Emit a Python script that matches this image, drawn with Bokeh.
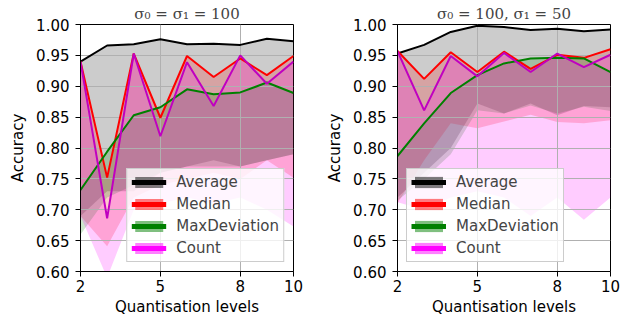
from bokeh.plotting import figure
from bokeh.layouts import row
from bokeh.models import (ColumnDataSource, FixedTicker, PrintfTickFormatter,
                          Legend, LegendItem, Range1d)
from bokeh.embed import file_html
from bokeh.resources import INLINE

# ---------------- data ----------------
levels = [2, 3, 4, 5, 6, 7, 8, 9, 10]
x_ticks = [2, 5, 8, 10]
y_ticks = [0.60, 0.65, 0.70, 0.75, 0.80, 0.85, 0.90, 0.95, 1.00]
titles = ["σ₀ = σ₁ = 100", "σ₀ = 100, σ₁ = 50"]
series_names = ["Average", "Median", "MaxDeviation", "Count"]

# left panel (sigma0 = sigma1 = 100): line values (band tops) and band bottoms
avg_left = [0.940, 0.966, 0.968, 0.976, 0.968, 0.969, 0.967, 0.977, 0.973]
med_left = [0.940, 0.752, 0.953, 0.849, 0.949, 0.915, 0.945, 0.918, 0.949]
maxdev_left = [0.732, 0.794, 0.853, 0.866, 0.895, 0.887, 0.890, 0.906, 0.889]
count_left = [0.940, 0.686, 0.953, 0.819, 0.939, 0.868, 0.950, 0.904, 0.940]
avg_left_lo = [0.690, 0.730, 0.730, 0.760, 0.770, 0.780, 0.770, 0.780, 0.790]
med_left_lo = [0.690, 0.641, 0.720, 0.740, 0.750, 0.760, 0.750, 0.780, 0.752]
maxdev_left_lo = [0.660, 0.720, 0.740, 0.760, 0.770, 0.770, 0.770, 0.780, 0.790]
count_left_lo = [0.690, 0.590, 0.700, 0.710, 0.720, 0.710, 0.720, 0.700, 0.673]

# right panel (sigma0 = 100, sigma1 = 50)
avg_right = [0.953, 0.967, 0.988, 0.998, 0.996, 0.991, 0.993, 0.989, 0.992]
med_right = [0.957, 0.912, 0.955, 0.923, 0.956, 0.928, 0.951, 0.946, 0.960]
maxdev_right = [0.787, 0.840, 0.889, 0.918, 0.937, 0.945, 0.946, 0.945, 0.923]
count_right = [0.957, 0.861, 0.949, 0.916, 0.954, 0.923, 0.953, 0.931, 0.951]
avg_right_lo = [0.720, 0.760, 0.800, 0.872, 0.856, 0.872, 0.853, 0.868, 0.866]
med_right_lo = [0.710, 0.780, 0.840, 0.832, 0.843, 0.854, 0.842, 0.840, 0.845]
maxdev_right_lo = [0.715, 0.750, 0.790, 0.861, 0.856, 0.869, 0.856, 0.867, 0.860]
count_right_lo = [0.712, 0.700, 0.720, 0.730, 0.720, 0.690, 0.720, 0.684, 0.720]

# ---------------- styles ----------------
line_colors = ["#000000", "#ff0000", "#008000", "#c000c0"]
fill_colors = ["#000000", "#ff0000", "#008000", "#ff00ff"]
legend_line_colors = ["#000000", "#ff0000", "#008000", "#ff00ff"]
FONT = "DejaVu Sans"
FS = "15px"
NAN = float("nan")


def make_panel(title, tops, bottoms, legend_loc, border_left, border_right, width):
    p = figure(width=width, height=318, output_backend="svg", toolbar_location=None,
               x_range=Range1d(2, 10), y_range=Range1d(0.6, 1.0),
               min_border_left=border_left, min_border_right=border_right,
               min_border_top=24, min_border_bottom=46)
    p.title.text = title
    p.title.text_font = "DejaVu Serif"
    p.title.text_font_size = FS
    p.title.text_font_style = "normal"
    p.title.align = "center"
    p.title.standoff = 4
    p.title.offset = 0

    for top, bot, fc in zip(tops, bottoms, fill_colors):
        src = ColumnDataSource(dict(x=levels, y1=bot, y2=top))
        r = p.varea(x="x", y1="y1", y2="y2", source=src, fill_color=fc, fill_alpha=0.2)
        r.level = "image"
    for top, lc in zip(tops, line_colors):
        src = ColumnDataSource(dict(x=levels, y=top))
        p.line(x="x", y="y", source=src, line_color=lc, line_width=2)

    # legend proxies (not visible in the plot area)
    items = []
    for name, fc, lc in zip(series_names, fill_colors, legend_line_colors):
        ea = ColumnDataSource(dict(x=[NAN, NAN], y1=[NAN, NAN], y2=[NAN, NAN]))
        ra = p.varea(x="x", y1="y1", y2="y2", source=ea, fill_color=fc, fill_alpha=0.5)
        el = ColumnDataSource(dict(x=[NAN, NAN], y=[NAN, NAN]))
        rl = p.line(x="x", y="y", source=el, line_color=lc, line_width=5)
        items.append(LegendItem(label=name, renderers=[ra, rl], index=0))
    leg = Legend(items=items, location=legend_loc)
    leg.label_text_font = FONT
    leg.label_text_font_size = FS
    leg.label_height = 15
    leg.glyph_height = 14
    leg.glyph_width = 35
    leg.spacing = 4
    leg.padding = 4
    leg.margin = 9
    leg.label_standoff = 10
    leg.border_line_color = "#cccccc"
    leg.border_line_alpha = 1.0
    leg.background_fill_color = "white"
    leg.background_fill_alpha = 0.8
    p.add_layout(leg, "center")

    p.xaxis.ticker = FixedTicker(ticks=x_ticks)
    p.yaxis.ticker = FixedTicker(ticks=y_ticks)
    p.yaxis.formatter = PrintfTickFormatter(format="%.2f")
    p.xaxis.axis_label = "Quantisation levels"
    p.yaxis.axis_label = "Accuracy"
    for ax in (p.xaxis[0], p.yaxis[0]):
        ax.axis_label_text_font = FONT
        ax.axis_label_text_font_size = FS
        ax.axis_label_text_font_style = "normal"
        ax.axis_label_text_color = "black"
        ax.major_label_text_font = FONT
        ax.major_label_text_font_size = FS
        ax.major_label_text_color = "black"
        ax.major_tick_out = 5
        ax.major_tick_in = 0
        ax.minor_tick_line_color = None
        ax.axis_line_color = "black"
        ax.major_tick_line_color = "black"
    p.yaxis.major_label_standoff = 6
    p.yaxis.axis_label_standoff = 6
    p.xaxis.major_label_standoff = 3
    p.xaxis.axis_label_standoff = 3
    p.xgrid.grid_line_color = "#b0b0b0"
    p.ygrid.grid_line_color = "#b0b0b0"
    p.xgrid.grid_line_width = 1
    p.ygrid.grid_line_width = 1
    p.outline_line_color = "black"
    p.outline_line_alpha = 1.0
    p.outline_line_width = 1
    p.background_fill_color = "white"
    p.border_fill_color = "white"
    return p


p1 = make_panel(titles[0],
                [avg_left, med_left, maxdev_left, count_left],
                [avg_left_lo, med_left_lo, maxdev_left_lo, count_left_lo],
                "bottom_right", 80, 26, 319)
p2 = make_panel(titles[1],
                [avg_right, med_right, maxdev_right, count_right],
                [avg_right_lo, med_right_lo, maxdev_right_lo, count_right_lo],
                "bottom_left", 78, 16, 307)

layout = row(p1, p2)
open("out.html", "w").write(file_html(layout, INLINE))
